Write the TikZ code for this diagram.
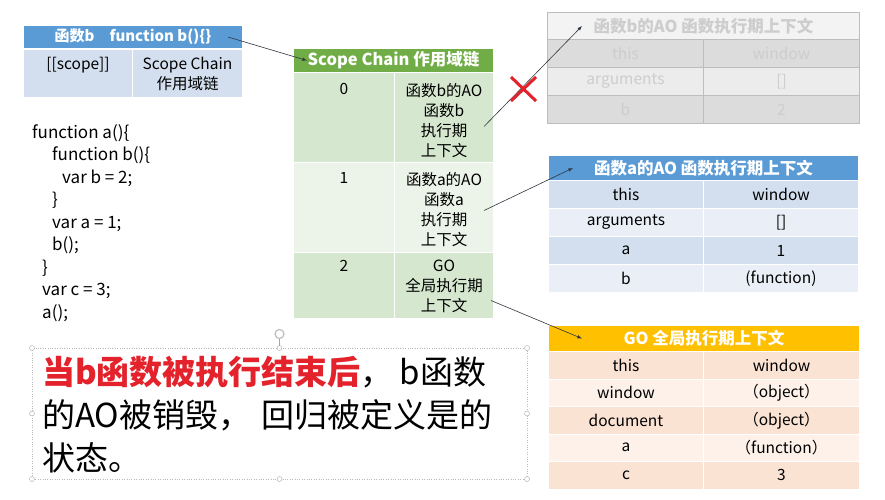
\documentclass[tikz,border=0pt]{standalone}
\usepackage{fontspec}
\setmainfont{Noto Sans CJK SC}
\usepackage{xcolor}
\usepackage{tikz}

\definecolor{hdblue}{HTML}{5B9BD5}
\definecolor{rowblue}{HTML}{D3DFEF}
\definecolor{rowbluelt}{HTML}{EAEFF7}
\definecolor{hdgreen}{HTML}{70AD47}
\definecolor{rowgreen}{HTML}{D6E7CF}
\definecolor{rowgreenlt}{HTML}{ECF3E8}
\definecolor{hdorange}{HTML}{FFC000}
\definecolor{roworange}{HTML}{FBE3D4}
\definecolor{roworangelt}{HTML}{FDF1E9}
\definecolor{fadehd}{HTML}{F3F3F3}
\definecolor{faderow}{HTML}{DCDCDC}
\definecolor{faderowlt}{HTML}{ECECEC}
\definecolor{fadetext}{HTML}{CDCDCD}
\definecolor{fadeline}{HTML}{BDBDBD}
\definecolor{arrowgray}{HTML}{2F3640}
\definecolor{crossred}{HTML}{E4222B}
\definecolor{notered}{HTML}{E4222B}

\begin{document}
\begin{tikzpicture}[x=1pt,y=-1pt,
    cell/.style={anchor=north west,inner sep=0pt,draw=white,line width=1pt,
                 minimum height=28pt,font=\fontsize{15.5}{18}\selectfont},
    headcell/.style={cell,text=white,font=\bfseries\fontsize{16.5}{18}\selectfont},
    fade/.style={cell,draw=fadeline,text=fadetext},
    txt/.style={anchor=north,inner sep=0pt,align=center,font=\fontsize{15.5}{20}\selectfont},
    link/.style={->,>=latex,arrowgray,line width=0.6pt}]
    \useasboundingbox[fill=white] (0,0) rectangle (885,499);

    % function b
    \node[headcell,fill=hdblue,minimum width=219pt,minimum height=23pt,font=\bfseries\fontsize{15}{18}\selectfont] (fnbHead) at (23,25) {函数b\quad function b()\{\}};
    \node[cell,fill=rowblue,minimum width=109pt,minimum height=48pt] (fnbScope) at (23,49) {};
    \node[cell,fill=rowblue,minimum width=110pt,minimum height=48pt] (fnbChain) at (132,49) {};
    \node[txt] (scopeTxt) at ([yshift=-8pt]fnbScope.north) {[[scope]]};
    \node[txt] (chainTxt) at ([yshift=-8pt]fnbChain.north) {Scope Chain\\作用域链};

    % code
    \node[anchor=north west,inner sep=0pt,align=left,font=\fontsize{17}{22.5}\selectfont] (code) at (32,124)
        {function a()\{\\
         \hspace*{20pt}function b()\{\\
         \hspace*{30pt}var b = 2;\\
         \hspace*{20pt}\}\\
         \hspace*{20pt}var a = 1;\\
         \hspace*{20pt}b();\\
         \hspace*{10pt}\}\\
         \hspace*{10pt}var c = 3;\\
         \hspace*{10pt}a();};

    % scope chain
    \node[headcell,fill=hdgreen,minimum width=200pt,minimum height=24pt] (scHead) at (293,48) {Scope Chain 作用域链};
    \node[cell,fill=rowgreen,minimum width=101pt,minimum height=90pt] (sc0k) at (293,72) {};
    \node[cell,fill=rowgreen,minimum width=99pt,minimum height=90pt] (sc0v) at (394,72) {};
    \node[cell,fill=rowgreenlt,minimum width=101pt,minimum height=90pt] (sc1k) at (293,162) {};
    \node[cell,fill=rowgreenlt,minimum width=99pt,minimum height=90pt] (sc1v) at (394,162) {};
    \node[cell,fill=rowgreen,minimum width=101pt,minimum height=66pt] (sc2k) at (293,252) {};
    \node[cell,fill=rowgreen,minimum width=99pt,minimum height=66pt] (sc2v) at (394,252) {};
    \node[txt] (sc0kTxt) at ([yshift=-11pt]sc0k.north) {0};
    \node[txt] (sc0vTxt) at ([yshift=-11pt]sc0v.north) {函数b的AO\\函数b\\执行期\\上下文};
    \node[txt] (sc1kTxt) at ([yshift=-10pt]sc1k.north) {1};
    \node[txt] (sc1vTxt) at ([yshift=-10pt]sc1v.north) {函数a的AO\\函数a\\执行期\\上下文};
    \node[txt] (sc2kTxt) at ([yshift=-8pt]sc2k.north) {2};
    \node[txt] (sc2vTxt) at ([yshift=-8pt]sc2v.north) {GO\\全局执行期\\上下文};

    % AO of b, gone
    \node[fade,fill=fadehd,minimum width=312pt,minimum height=27pt,font=\bfseries\fontsize{16.5}{18}\selectfont] (boHead) at (547,12) {函数b的AO 函数执行期上下文};
    \node[fade,fill=faderow,minimum width=156pt] (boThisK) at (547,39) {this};
    \node[fade,fill=faderow,minimum width=156pt] (boThisV) at (703,39) {window};
    \node[fade,fill=faderowlt,minimum width=156pt] (boArgK) at (547,67) {arguments};
    \node[fade,fill=faderowlt,minimum width=156pt] (boArgV) at (703,67) {[]};
    \node[fade,fill=faderow,minimum width=156pt] (boBK) at (547,95) {b};
    \node[fade,fill=faderow,minimum width=156pt] (boBV) at (703,95) {2};

    % AO of a
    \node[headcell,fill=hdblue,minimum width=310pt,minimum height=25pt] (aoHead) at (548,155) {函数a的AO 函数执行期上下文};
    \node[cell,fill=rowblue,minimum width=155pt] (aoThisK) at (548,180) {this};
    \node[cell,fill=rowblue,minimum width=155pt] (aoThisV) at (703,180) {window};
    \node[cell,fill=rowbluelt,minimum width=155pt] (aoArgK) at (548,208) {arguments};
    \node[cell,fill=rowbluelt,minimum width=155pt] (aoArgV) at (703,208) {[]};
    \node[cell,fill=rowblue,minimum width=155pt] (aoAK) at (548,236) {a};
    \node[cell,fill=rowblue,minimum width=155pt] (aoAV) at (703,236) {1};
    \node[cell,fill=rowbluelt,minimum width=155pt] (aoBK) at (548,264) {b};
    \node[cell,fill=rowbluelt,minimum width=155pt] (aoBV) at (703,264) {(function)};

    % GO
    \node[headcell,fill=hdorange,minimum width=311pt,minimum height=26pt] (goHead) at (548,325) {GO 全局执行期上下文};
    \node[cell,fill=roworange,minimum width=155pt,minimum height=27.5pt] (goThisK) at (548,351) {this};
    \node[cell,fill=roworange,minimum width=156pt,minimum height=27.5pt] (goThisV) at (703,351) {window};
    \node[cell,fill=roworangelt,minimum width=155pt,minimum height=27.5pt] (goWinK) at (548,378.5) {window};
    \node[cell,fill=roworangelt,minimum width=156pt,minimum height=27.5pt] (goWinV) at (703,378.5) {（object）};
    \node[cell,fill=roworange,minimum width=155pt,minimum height=27.5pt] (goDocK) at (548,406) {document};
    \node[cell,fill=roworange,minimum width=156pt,minimum height=27.5pt] (goDocV) at (703,406) {（object）};
    \node[cell,fill=roworangelt,minimum width=155pt,minimum height=27.5pt] (goAK) at (548,433.5) {a};
    \node[cell,fill=roworangelt,minimum width=156pt,minimum height=27.5pt] (goAV) at (703,433.5) {（function）};
    \node[cell,fill=roworange,minimum width=155pt,minimum height=27.5pt] (goCK) at (548,461) {c};
    \node[cell,fill=roworange,minimum width=156pt,minimum height=27.5pt] (goCV) at (703,461) {3};

    % links
    \draw[link] ([xshift=-15pt]fnbHead.east) -- ([xshift=14pt]scHead.west);
    \draw[link] ([xshift=-10pt,yshift=-9pt]sc0v.east) -- ([xshift=35pt]boHead.west);
    \draw[link] ([xshift=-10pt,yshift=-3pt]sc1v.east) -- ([xshift=25pt]aoHead.west);
    \draw[link] ([xshift=-3pt,yshift=-15pt]sc2v.east) -- ([xshift=34pt]goHead.west);

    % cross
    \draw[crossred,line width=3pt] (511,77) -- (536,101) (536,77) -- (511,101);

    % note box
    \draw[gray!55,dotted] (32,348) rectangle (527,479);
    \draw[gray!70,fill=white] (32,348) circle (2.5pt);
    \draw[gray!70,fill=white] (279.5,348) circle (2.5pt);
    \draw[gray!70,fill=white] (527,348) circle (2.5pt);
    \draw[gray!70,fill=white] (32,413.5) circle (2.5pt);
    \draw[gray!70,fill=white] (527,413.5) circle (2.5pt);
    \draw[gray!70,fill=white] (32,479) circle (2.5pt);
    \draw[gray!70,fill=white] (279.5,479) circle (2.5pt);
    \draw[gray!70,fill=white] (527,479) circle (2.5pt);
    \draw[gray!70] (279.5,345.5) -- (279.5,338.5);
    \draw[gray!50,line width=1.2pt,fill=white] (279.5,334) circle (4.5pt);
    \node[anchor=north west,inner sep=0pt,align=left,font=\fontsize{33}{43}\selectfont] (note) at (42,356)
        {\textcolor{notered}{\bfseries 当b函数被执行结束后}，\hspace{6pt}b函数\\
         的AO被销毁，\hspace{10pt}回归被定义是的\\
         状态。};
\end{tikzpicture}
\end{document}
